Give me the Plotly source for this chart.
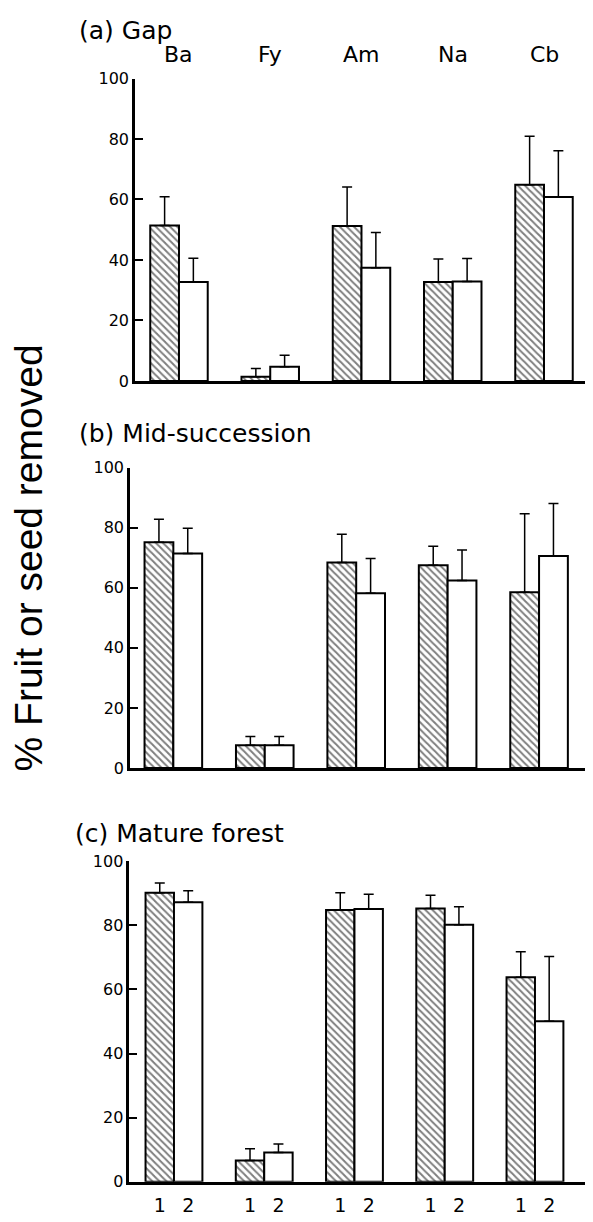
import plotly.graph_objects as go

# ---- data ----
species = ["Ba", "Fy", "Am", "Na", "Cb"]
treatment_labels = ["1", "2"]
panel_titles = ["(a) Gap", "(b) Mid-succession", "(c) Mature forest"]

gap_t1 = [51.4, 1.4, 51.2, 32.7, 64.9]
gap_t1_se = [9.5, 2.7, 12.9, 7.6, 16.0]
gap_t2 = [32.7, 4.7, 37.4, 32.9, 60.8]
gap_t2_se = [7.9, 3.8, 11.7, 7.6, 15.3]

mid_t1 = [75.1, 7.6, 68.4, 67.5, 58.5]
mid_t1_se = [7.7, 2.9, 9.4, 6.3, 26.1]
mid_t2 = [71.4, 7.6, 58.2, 62.4, 70.6]
mid_t2_se = [8.4, 2.9, 11.5, 10.2, 17.4]

mat_t1 = [90.2, 6.6, 84.8, 85.3, 63.8]
mat_t1_se = [3.0, 3.7, 5.4, 4.1, 8.0]
mat_t2 = [87.2, 9.1, 85.1, 80.2, 50.1]
mat_t2_se = [3.6, 2.7, 4.6, 5.6, 20.2]

y_ticks = [0, 20, 40, 60, 80, 100]

# ---- styling / layout ----
BAR_GAP = 0.37
PAGE_W, PAGE_H = 593, 1222
BODY = 8                       # default page margin of the html body
W, H = PAGE_W - BODY, PAGE_H - BODY
FONT = "DejaVu Sans"


def px_x(px):
    return (px - BODY) / W


def px_y(py):
    return (PAGE_H - py) / H


panels = [
    (gap_t1, gap_t1_se, gap_t2, gap_t2_se),
    (mid_t1, mid_t1_se, mid_t2, mid_t2_se),
    (mat_t1, mat_t1_se, mat_t2, mat_t2_se),
]
# page-pixel geometry of each panel: (y of 0, y of 100, x of y-axis, x range)
geom = [
    (377.7, 70.5, 135, [-0.482, 4.537]),
    (771.0, 465.7, 130, [-0.474, 4.59]),
    (1191.2, 865.7, 129.3, [-0.495, 4.643]),
]
title_pos = [(77, 22), (77, 431), (73, 837)]

xs = list(range(len(species)))
fig = go.Figure()
layout = dict(
    width=W, height=H, margin=dict(l=0, r=0, t=0, b=0),
    paper_bgcolor="white", plot_bgcolor="white",
    barmode="group", bargap=BAR_GAP, bargroupgap=0,
    showlegend=False, font=dict(family=FONT, color="black"),
)
annotations = []
half = (1 - BAR_GAP) / 4

for k, (v1, s1, v2, s2) in enumerate(panels):
    xa = "x" if k == 0 else f"x{k+1}"
    ya = "y" if k == 0 else f"y{k+1}"
    for vals, se, hatched in ((v1, s1, True), (v2, s2, False)):
        marker = dict(color="white", line=dict(color="black", width=2))
        if hatched:
            marker["pattern"] = dict(shape="\\", size=5, solidity=0.4,
                                     fgcolor="black", bgcolor="white")
        fig.add_trace(go.Bar(
            x=xs, y=vals, xaxis=xa, yaxis=ya, marker=marker,
            error_y=dict(type="data", symmetric=False, array=se,
                         arrayminus=[0] * len(se), color="black",
                         thickness=1.5, width=5),
        ))
    y0, y100, xax, xr = geom[k]
    xkey = "xaxis" if k == 0 else f"xaxis{k+1}"
    ykey = "yaxis" if k == 0 else f"yaxis{k+1}"
    xaxis = dict(domain=[px_x(xax), 1.0], range=xr, anchor=ya,
                 showline=True, linecolor="black", linewidth=2.5,
                 showgrid=False, zeroline=False, ticks="",
                 showticklabels=False, fixedrange=True)
    if k == 2:
        tv, tt = [], []
        for i in xs:
            tv += [i - half, i + half]
            tt += treatment_labels
        xaxis.update(showticklabels=True, tickmode="array", tickvals=tv,
                     ticktext=tt, ticklabelstandoff=5,
                     tickfont=dict(size=19, family=FONT))
    layout[xkey] = xaxis
    layout[ykey] = dict(domain=[px_y(y0), px_y(y100)], range=[0, 100],
                        anchor=xa, showline=True, linecolor="black",
                        linewidth=2.5, showgrid=False, zeroline=False,
                        ticks="inside", ticklen=8, tickwidth=2,
                        tickcolor="black", tickmode="array",
                        tickvals=y_ticks, tickfont=dict(size=16, family=FONT),
                        fixedrange=True)
    tx, ty = title_pos[k]
    annotations.append(dict(text=panel_titles[k], xref="paper", yref="paper",
                            x=px_x(tx), y=px_y(ty), xanchor="left",
                            yanchor="middle", showarrow=False,
                            font=dict(size=25, family=FONT)))

for i, sp in enumerate(species):
    annotations.append(dict(text=sp, xref="x", yref="paper", x=i,
                            y=px_y(46), xanchor="center", yanchor="middle",
                            showarrow=False, font=dict(size=22, family=FONT)))

annotations.append(dict(text="% Fruit or seed removed", xref="paper",
                        yref="paper", x=px_x(28), y=px_y(558),
                        xanchor="center", yanchor="middle", textangle=-90,
                        showarrow=False,
                        font=dict(size=39, family="Liberation Sans")))

layout["annotations"] = annotations
fig.update_layout(**layout)
fig.write_html("out.html")
